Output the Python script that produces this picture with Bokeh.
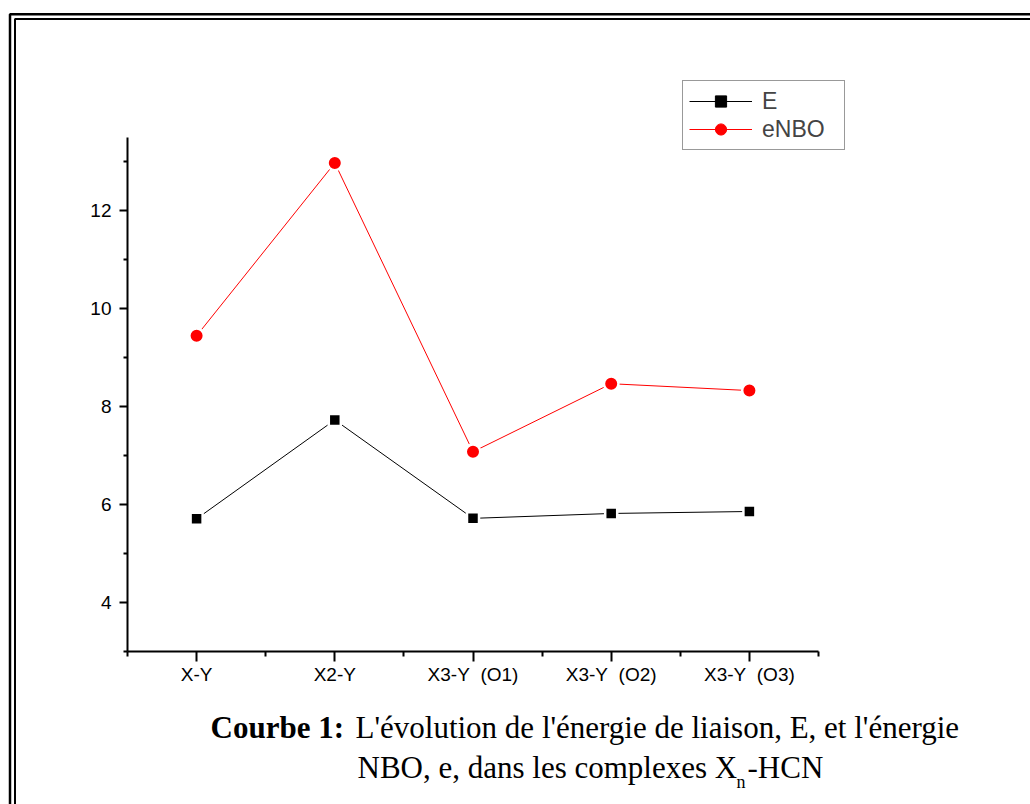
from bokeh.plotting import figure
from bokeh.models import FixedTicker, Label, BoxAnnotation, Legend, LegendItem, Range1d
from bokeh.embed import file_html
from bokeh.resources import INLINE

# ---- data ----
categories = ["X-Y", "X2-Y", "X3-Y\u00a0 (O1)", "X3-Y\u00a0 (O2)", "X3-Y\u00a0 (O3)"]
E_values = [5.71, 7.73, 5.72, 5.82, 5.86]
eNBO_values = [9.45, 12.98, 7.08, 8.47, 8.33]
y_major = [4, 6, 8, 10, 12]
y_minor = [3, 5, 7, 9, 11, 13]

xs = list(range(1, len(categories) + 1))

W, H = 1030, 804
# pixel box of the axes area in the reference
FL, FR, FT, FB = 127, 818, 137, 651
X0, X1 = 0.5, len(categories) + 0.5
Y0, Y1 = 3.0, 13.5

def px_x(xp):
    return X0 + (xp - FL) / (FR - FL) * (X1 - X0)

def px_y(yp):
    return Y0 + (FB - yp) / (FB - FT) * (Y1 - Y0)

# the frame covers the whole page so that border, legend and caption are not clipped
p = figure(width=W, height=H, output_backend="svg", toolbar_location=None,
           x_range=Range1d(px_x(0), px_x(W)), y_range=Range1d(px_y(H), px_y(0)),
           min_border=0)
p.outline_line_color = None
p.xgrid.visible = False
p.ygrid.visible = False
p.background_fill_color = "white"
p.border_fill_color = "white"

# axes
xa = p.xaxis[0]
xa.fixed_location = Y0
xa.bounds = (X0, X1)
xa.ticker = FixedTicker(ticks=xs, minor_ticks=[x - 0.5 for x in xs] + [xs[-1] + 0.5])
xa.major_label_overrides = {x: c for x, c in zip(xs, categories)}
ya = p.yaxis[0]
ya.fixed_location = X0
ya.bounds = (Y0, Y1)
ya.ticker = FixedTicker(ticks=y_major, minor_ticks=y_minor)
for ax in (xa, ya):
    ax.axis_line_width = 2
    ax.axis_line_color = "black"
    ax.major_tick_line_width = 2
    ax.minor_tick_line_width = 2
    ax.major_tick_line_color = "black"
    ax.minor_tick_line_color = "black"
    ax.major_tick_in = 0
    ax.minor_tick_in = 0
    ax.major_label_text_font = "Liberation Sans"
    ax.major_label_text_font_size = "19px"
    ax.major_label_text_color = "black"
xa.major_tick_out = 10
xa.minor_tick_out = 5
xa.major_label_standoff = 2
ya.major_tick_out = 8
ya.minor_tick_out = 4
ya.major_label_standoff = 8

# series
lE = p.line(xs, E_values, line_color="black", line_width=1)
mE_leg = p.scatter(xs, E_values, marker="square", size=11, fill_color="black", line_color="black", line_width=1)
p.scatter(xs, E_values, marker="square", size=12, fill_color="black", line_color="white", line_width=2.5)

lN = p.line(xs, eNBO_values, line_color="red", line_width=1)
mN_leg = p.scatter(xs, eNBO_values, marker="circle", size=13, fill_color="red", line_color="red", line_width=1)
p.scatter(xs, eNBO_values, marker="circle", size=14.5, fill_color="red", line_color="white", line_width=2.5)

legend = Legend(items=[LegendItem(label="E", renderers=[lE, mE_leg]),
                       LegendItem(label="eNBO", renderers=[lN, mN_leg])],
                location=(682, H - 150))
legend.margin = 0
legend.padding = 6
legend.spacing = 0
legend.glyph_width = 63
legend.glyph_height = 28
legend.label_height = 20
legend.label_width = 76
legend.label_standoff = 10
legend.label_text_font = "Liberation Sans"
legend.label_text_font_size = "23px"
legend.label_text_baseline = "middle"
legend.border_line_color = "#333333"
legend.border_line_width = 1
legend.background_fill_color = "white"
legend.background_fill_alpha = 1
p.add_layout(legend)

# double page border
p.add_layout(BoxAnnotation(left=px_x(9.5), top=px_y(13.8), right=px_x(1300), bottom=px_y(1100),
                           fill_alpha=0, line_color="black", line_alpha=1, line_width=2.5))
p.add_layout(BoxAnnotation(left=px_x(14.5), top=px_y(18.5), right=px_x(1300), bottom=px_y(1100),
                           fill_alpha=0, line_color="black", line_alpha=1, line_width=2))

# caption
cap = dict(text_font="Liberation Serif", text_color="black", text_baseline="alphabetic")
p.add_layout(Label(x=px_x(210), y=px_y(727), text="Courbe 1:", text_font_size="31px",
                   text_font_style="bold", **cap))
p.add_layout(Label(x=px_x(355), y=px_y(727), text="L'évolution de l'énergie de liaison, E, et l'énergie",
                   text_font_size="31px", **cap))
p.add_layout(Label(x=px_x(357), y=px_y(767), text="NBO, e, dans les complexes X",
                   text_font_size="31px", **cap))
p.add_layout(Label(x=px_x(736), y=px_y(781), text="n", text_font_size="18px", **cap))
p.add_layout(Label(x=px_x(747), y=px_y(767), text="-HCN", text_font_size="31px", **cap))

open("out.html", "w").write(file_html(p, INLINE))
